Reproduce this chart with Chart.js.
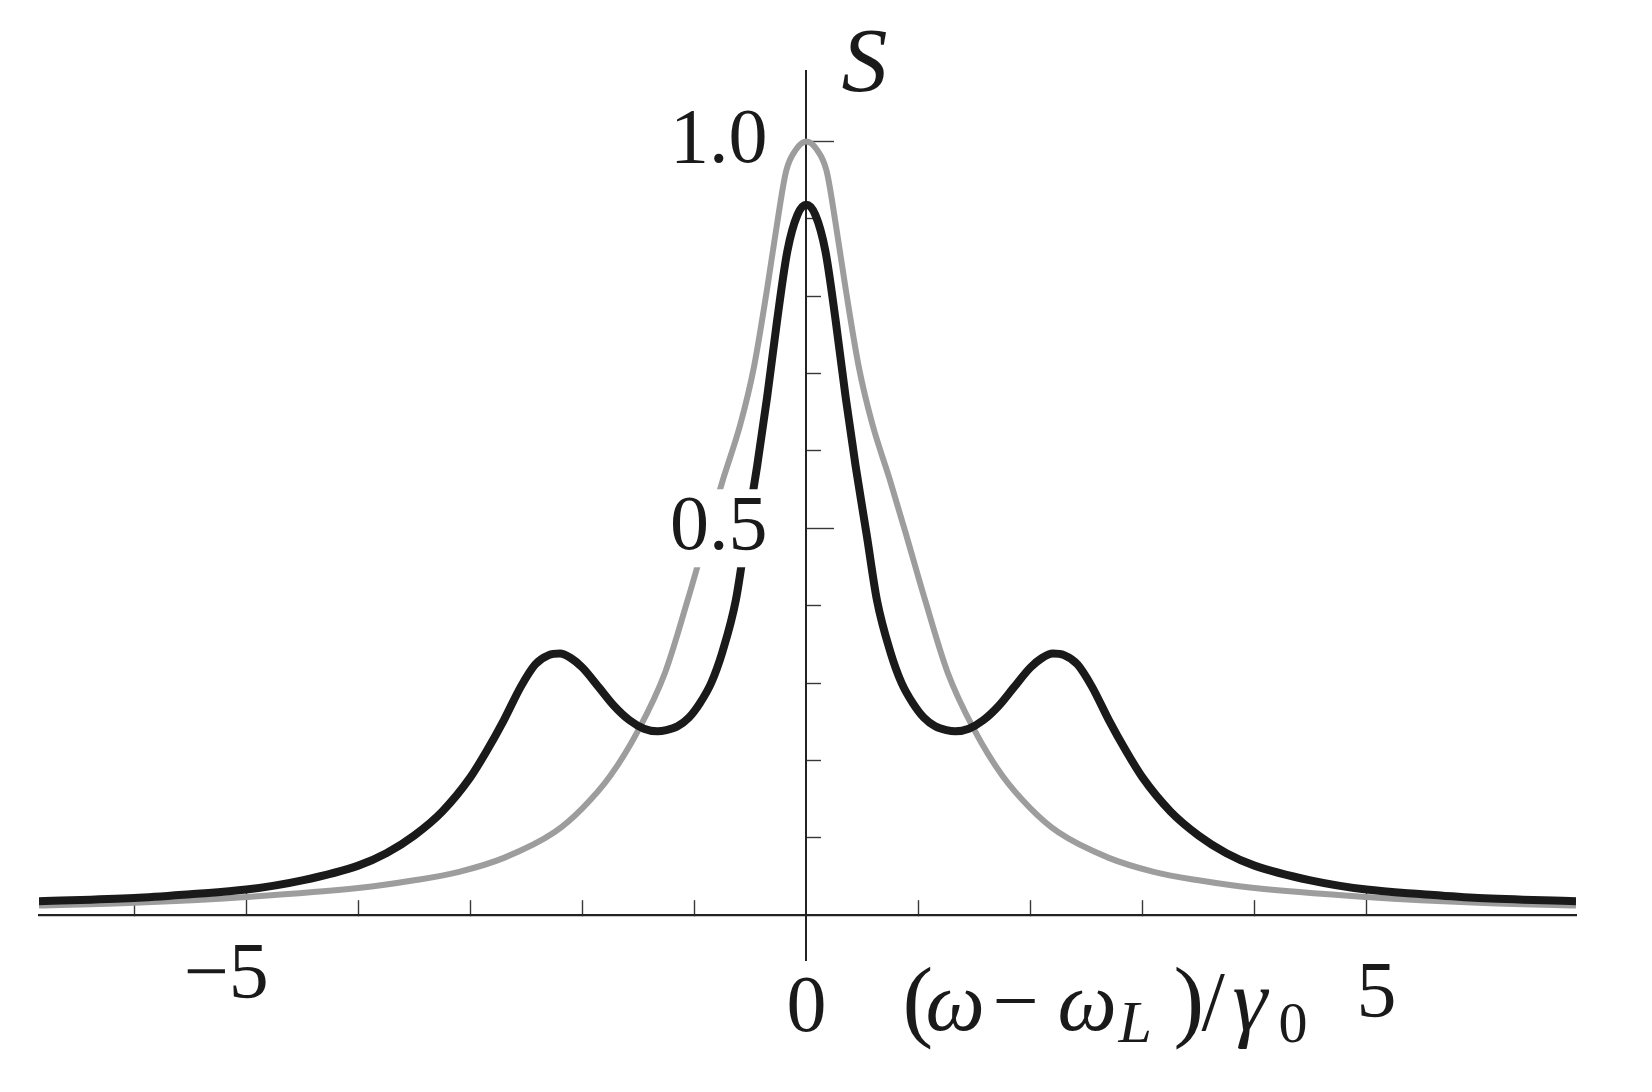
<!DOCTYPE html>
<html>
<head>
<meta charset="utf-8">
<script src="https://cdn.jsdelivr.net/npm/chart.js@4/dist/chart.umd.min.js"></script>
<style>
  html, body { margin: 0; padding: 0; background: #fff; }
  canvas { display: block; }
</style>
</head>
<body>
<canvas id="spectrum" width="1652" height="1092"></canvas>
<script>
// values
const xLimits = [-6.85, 6.87];
const yLimits = [-0.058, 1.091];

const xMinorTicks = [-6, -4, -3, -2, -1, 1, 2, 3, 4];
const xMajorTicks = [-5, 0, 5];
const xTickLabels = ['\u22125  ', '0', ' 5'];
const yMinorTicks = [0.1, 0.2, 0.3, 0.4, 0.6, 0.7, 0.8, 0.9];
const yMajorTicks = [0.5, 1.0];
const yTickLabels = ['0.5  ', '1.0  '];

// gray curve
const grayX = [-6.85, -6.0, -5.0, -4.0, -3.5, -3.1, -2.7, -2.25, -2.0, -1.75, -1.5, -1.26, -1.06,
    -0.9, -0.74, -0.59, -0.47, -0.35, -0.26, -0.18, -0.09, 0,
    0.09, 0.18, 0.26, 0.35, 0.47, 0.59, 0.74, 0.9, 1.06, 1.26, 1.5, 1.75, 2.0, 2.25, 2.7, 3.1,
    3.5, 4.0, 5.0, 6.0, 6.87];
const grayY = [0.0125, 0.016, 0.0235, 0.035, 0.045, 0.056, 0.074, 0.107, 0.138, 0.180, 0.239, 0.314, 0.407,
    0.487, 0.565, 0.634, 0.707, 0.810, 0.895, 0.962, 0.990, 1.0,
    0.990, 0.962, 0.895, 0.810, 0.707, 0.634, 0.565, 0.487, 0.407, 0.314, 0.239, 0.180, 0.138, 0.107, 0.074, 0.056,
    0.045, 0.035, 0.0235, 0.016, 0.0125];

// black curve
const blackX = [-6.85, -6.0, -5.5, -5.0, -4.5, -4.0, -3.75, -3.5, -3.25, -3.0, -2.85, -2.7, -2.55, -2.42,
    -2.3, -2.2, -2.1, -2.0, -1.85, -1.72, -1.58, -1.45, -1.33, -1.25, -1.15, -1.05, -0.95, -0.85,
    -0.75, -0.63, -0.54, -0.44, -0.35, -0.26, -0.17, -0.08, 0,
    0.08, 0.17, 0.26, 0.35, 0.44, 0.54, 0.63, 0.75, 0.85, 0.95, 1.05, 1.15, 1.25, 1.33, 1.45, 1.58,
    1.72, 1.85, 2.0, 2.1, 2.2, 2.3, 2.42, 2.55, 2.7, 2.85, 3.0, 3.25, 3.5, 3.75, 4.0, 4.5, 5.0, 5.5,
    6.0, 6.87];
const blackY = [0.018, 0.022, 0.027, 0.033, 0.045, 0.064, 0.080, 0.103, 0.134, 0.178, 0.213, 0.252, 0.295, 0.324,
    0.336, 0.338, 0.332, 0.320, 0.294, 0.271, 0.252, 0.241, 0.2375, 0.239, 0.244, 0.255, 0.274, 0.300,
    0.340, 0.407, 0.490, 0.580, 0.670, 0.770, 0.858, 0.905, 0.918,
    0.905, 0.858, 0.770, 0.670, 0.580, 0.490, 0.407, 0.340, 0.300, 0.274, 0.255, 0.244, 0.239, 0.2375, 0.241, 0.252,
    0.271, 0.294, 0.320, 0.332, 0.338, 0.336, 0.324, 0.295, 0.252, 0.213, 0.178, 0.134, 0.103, 0.080, 0.064, 0.045, 0.033, 0.027,
    0.022, 0.018];

const axisColor = '#222222';
const tickColor = '#383838';
const serif = '"Liberation Serif", "Times New Roman", serif';

function toPoints(xs, ys) {
    return xs.map((x, i) => ({ x: x, y: ys[i] }));
}

// x label heights differ a little in the original, done through line height
const xLabelLineHeight = { '-5': '100px', '0': '166px', '5': '138px' };

const axisTitles = {
    id: 'axisTitles',
    afterDraw(chart) {
        const ctx = chart.ctx;
        const x0 = chart.scales.x.getPixelForValue(0);
        const y0 = chart.scales.y.getPixelForValue(0);
        const y1 = chart.scales.y.getPixelForValue(1);

        ctx.save();
        ctx.fillStyle = '#1a1a1a';
        ctx.textBaseline = 'alphabetic';
        ctx.textAlign = 'left';

        ctx.font = 'italic 92px ' + serif;
        ctx.fillText('S', x0 + 36 + ctx.measureText('S').actualBoundingBoxLeft, y1 - 50);

        // (ω − ω_L)/γ_0, each piece placed by its ink left edge
        const left = x0 + 100;
        const base = y0 + 115;
        const parts = [
            ['(', '92px', 0, 0],
            ['\u03c9', 'italic 84px', 21, 0],
            ['\u2212', '82px', 90, -2],
            ['\u03c9', 'italic 84px', 153, 0],
            ['L', 'italic 60px', 211, 12],
            [')', '92px', 269, 0],
            ['/', '84px', 295, 0],
            ['\u03b3', 'italic 88px', 327, 0],
            ['0', '58px', 374, 12]
        ];
        parts.forEach(p => {
            ctx.font = p[1] + ' ' + serif;
            const m = ctx.measureText(p[0]);
            ctx.fillText(p[0], left + p[2] + m.actualBoundingBoxLeft, base + p[3]);
        });
        ctx.restore();
    }
};

new Chart(document.getElementById('spectrum'), {
    type: 'line',
    data: {
        datasets: [{
            label: 'gray',
            data: toPoints(grayX, grayY),
            borderColor: '#9d9d9d',
            borderWidth: 6,
            pointRadius: 0,
            cubicInterpolationMode: 'monotone',
            order: 2
        }, {
            label: 'black',
            data: toPoints(blackX, blackY),
            borderColor: '#1a1a1a',
            borderWidth: 8,
            pointRadius: 0,
            cubicInterpolationMode: 'monotone',
            order: 1
        }]
    },
    options: {
        responsive: false,
        animation: false,
        devicePixelRatio: 1,
        layout: { padding: { left: 39, right: 76, top: 71, bottom: 132 } },
        plugins: {
            legend: { display: false },
            tooltip: { enabled: false }
        },
        scales: {
            x: {
                type: 'linear',
                min: xLimits[0],
                max: xLimits[1],
                position: { y: 0 },
                border: { display: true, color: axisColor, width: 2.2 },
                grid: { drawOnChartArea: false, drawTicks: true, tickLength: -16, tickWidth: 1.4, tickColor: tickColor },
                ticks: { display: false },
                afterBuildTicks: scale => { scale.ticks = xMinorTicks.map(v => ({ value: v })); }
            },
            xMajor: {
                type: 'linear',
                axis: 'x',
                min: xLimits[0],
                max: xLimits[1],
                position: { y: 0 },
                border: { display: false },
                grid: {
                    drawOnChartArea: false, drawTicks: true, tickLength: -28, tickWidth: 1.4,
                    tickColor: ctx => (ctx.tick && ctx.tick.value === 0 ? 'rgba(0,0,0,0)' : tickColor)
                },
                ticks: {
                    autoSkip: false,
                    maxRotation: 0,
                    padding: 40,
                    color: '#1a1a1a',
                    font: ctx => ({
                        family: serif,
                        size: 80,
                        lineHeight: ctx.tick ? xLabelLineHeight[String(ctx.tick.value)] : 1.2
                    }),
                    callback: (value) => xTickLabels[xMajorTicks.indexOf(value)]
                },
                afterBuildTicks: scale => { scale.ticks = xMajorTicks.map(v => ({ value: v })); }
            },
            y: {
                type: 'linear',
                min: yLimits[0],
                max: yLimits[1],
                position: { x: 0 },
                border: { display: true, color: axisColor, width: 2 },
                grid: { drawOnChartArea: false, drawTicks: true, tickLength: -16, tickWidth: 1.4, tickColor: tickColor },
                ticks: { display: false },
                afterBuildTicks: scale => { scale.ticks = yMinorTicks.map(v => ({ value: v })); }
            },
            yMajor: {
                type: 'linear',
                axis: 'y',
                min: yLimits[0],
                max: yLimits[1],
                position: { x: 0 },
                border: { display: false },
                grid: { drawOnChartArea: false, drawTicks: true, tickLength: -28, tickWidth: 1.4, tickColor: tickColor },
                ticks: {
                    z: 1,
                    autoSkip: false,
                    color: '#1a1a1a',
                    font: { family: serif, size: 78, lineHeight: 1.0 },
                    showLabelBackdrop: true,
                    backdropColor: '#ffffff',
                    backdropPadding: { top: 0, bottom: 0, left: 6, right: -32 },
                    callback: (value) => yTickLabels[yMajorTicks.indexOf(value)]
                },
                afterBuildTicks: scale => { scale.ticks = yMajorTicks.map(v => ({ value: v })); }
            }
        }
    },
    plugins: [axisTitles]
});
</script>
</body>
</html>
